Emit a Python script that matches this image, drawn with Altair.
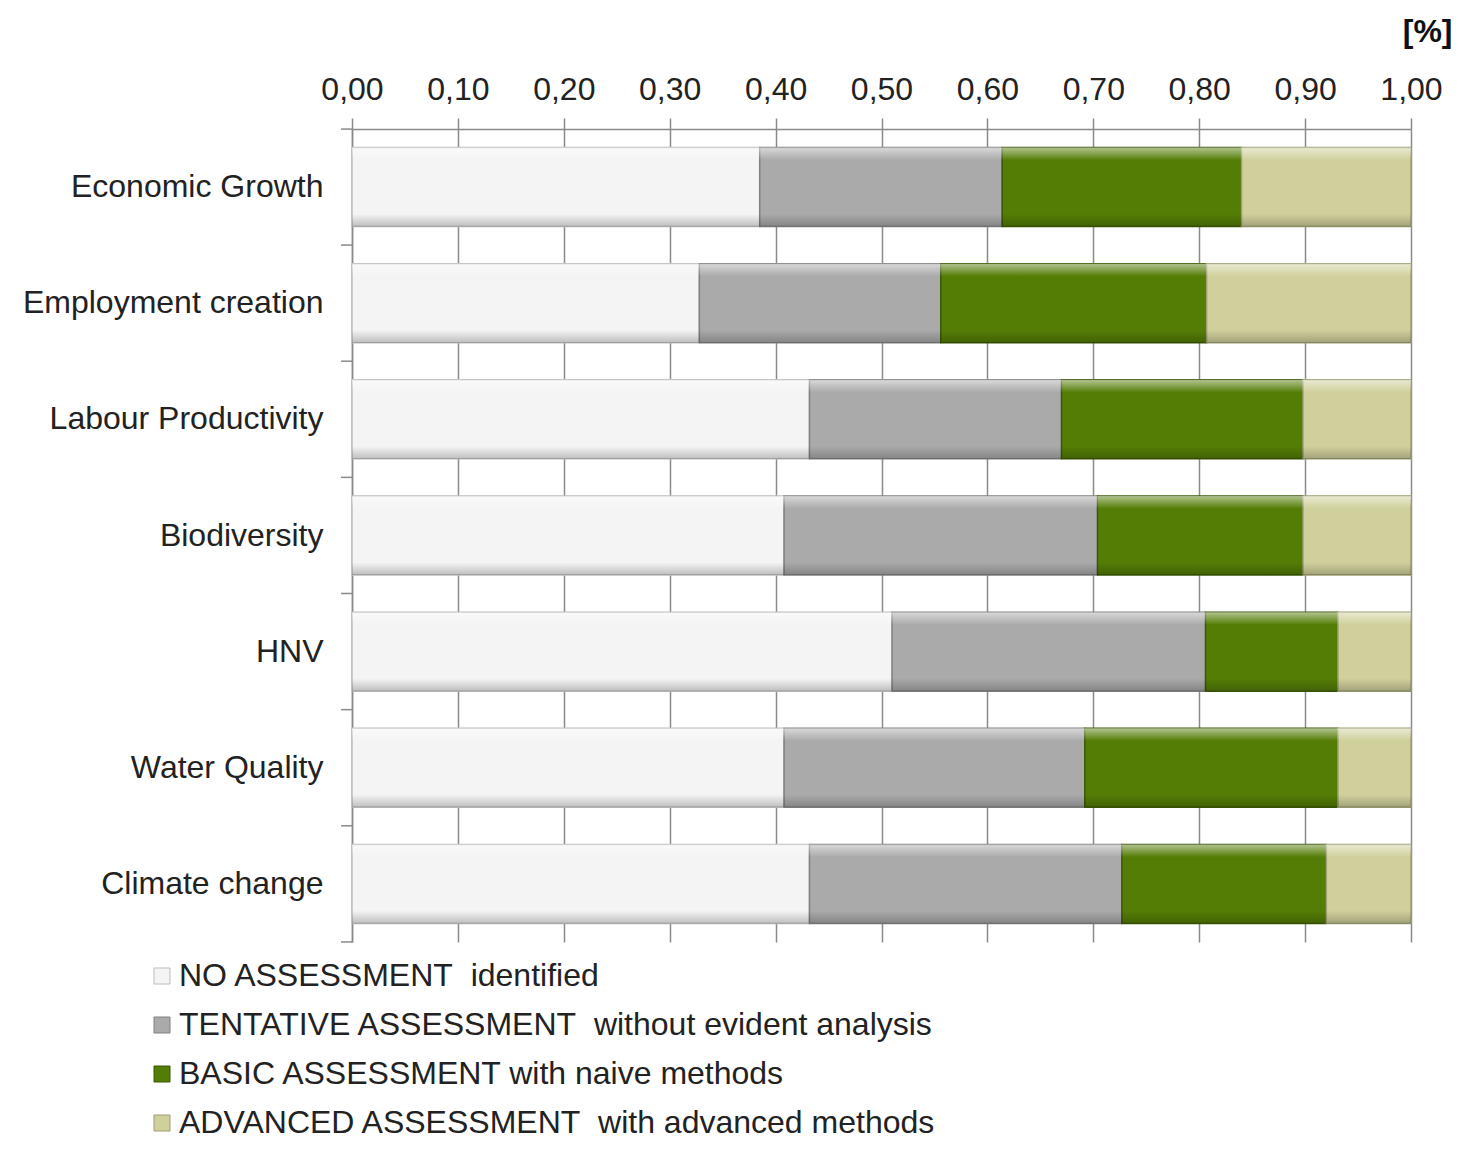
import altair as alt
import pandas as pd

categories = ["Economic Growth", "Employment creation", "Labour Productivity",
              "Biodiversity", "HNV", "Water Quality", "Climate change"]
levels = ["NO ASSESSMENT\u00a0 identified",
          "TENTATIVE ASSESSMENT\u00a0 without evident analysis",
          "BASIC ASSESSMENT with naive methods",
          "ADVANCED ASSESSMENT\u00a0 with advanced methods"]
no_assessment = [0.385, 0.328, 0.432, 0.408, 0.510, 0.408, 0.432]
tentative = [0.229, 0.228, 0.238, 0.296, 0.296, 0.284, 0.295]
basic = [0.226, 0.251, 0.228, 0.194, 0.125, 0.239, 0.193]
advanced = [0.160, 0.193, 0.102, 0.102, 0.069, 0.069, 0.080]
tick_values = [0.0, 0.1, 0.2, 0.3, 0.4, 0.5, 0.6, 0.7, 0.8, 0.9, 1.0]

fill_colors = ["#f4f4f4", "#aaaaaa", "#547d06", "#d0d09c"]
edge_colors = ["#bdbdbd", "#808080", "#3b5904", "#9e9e72"]

rows = []
series = [no_assessment, tentative, basic, advanced]
for li, (lev, vals) in enumerate(zip(levels, series)):
    for cat, v in zip(categories, vals):
        rows.append({"category": cat, "level": lev, "value": v, "idx": li})
df = pd.DataFrame(rows)
cat_df = pd.DataFrame({"category": categories})

FONT = "Liberation Sans"
AXIS_GRAY = "#8a8a8a"

x_enc = alt.X("value:Q", stack="zero",
              scale=alt.Scale(domain=[0, 1], nice=False, zero=True),
              axis=alt.Axis(orient="top", values=tick_values,
                            labelExpr="replace(format(datum.value, '.2f'), '.', ',')",
                            labelFlush=False, labelOverlap=False,
                            tickSize=11, tickColor=AXIS_GRAY, tickWidth=1.5,
                            domainColor=AXIS_GRAY, domainWidth=1.5,
                            grid=True, gridColor=AXIS_GRAY, gridWidth=1.5,
                            labelFont=FONT, labelFontSize=32, labelColor="#222222",
                            labelPadding=12,
                            title="[%]", titleFont=FONT, titleFontSize=32,
                            titleFontWeight="bold", titleColor="#111111",
                            titleAlign="right", titleAnchor="end",
                            titleX=1100, titleY=-88, titleBaseline="alphabetic"))
y_enc = alt.Y("category:N", sort=categories,
              scale=alt.Scale(paddingInner=0.32, paddingOuter=0.16),
              axis=alt.Axis(title=None, tickSize=11, tickOpacity=0,
                            domainColor=AXIS_GRAY, domainWidth=1.5,
                            labelFont=FONT, labelFontSize=32, labelColor="#222222",
                            labelPadding=18, labelLimit=400, grid=False))

base = alt.Chart(df).mark_bar(strokeWidth=1.5).encode(
    x=x_enc,
    y=y_enc,
    color=alt.Color("level:N", sort=levels,
                    scale=alt.Scale(domain=levels, range=fill_colors),
                    legend=alt.Legend(title=None, orient="none",
                                      legendX=-206, legendY=831,
                                      direction="vertical",
                                      symbolType="square", symbolSize=256,
                                      symbolStrokeColor=AXIS_GRAY, symbolStrokeWidth=1,
                                      labelFont=FONT, labelFontSize=32,
                                      labelColor="#222222", labelOffset=1,
                                      rowPadding=17, labelLimit=900)),
    stroke=alt.Stroke("level:N", sort=levels,
                      scale=alt.Scale(domain=levels, range=edge_colors),
                      legend=None),
    order=alt.Order("idx:Q"),
)

bevel = alt.Chart(df).mark_bar(
    color=alt.Gradient(
        gradient="linear", x1=0, y1=0, x2=0, y2=1,
        stops=[alt.GradientStop(color="rgba(255,255,255,0.55)", offset=0),
               alt.GradientStop(color="rgba(255,255,255,0.0)", offset=0.16),
               alt.GradientStop(color="rgba(0,0,0,0.0)", offset=0.84),
               alt.GradientStop(color="rgba(0,0,0,0.22)", offset=1)]),
    strokeWidth=0,
).encode(
    x=alt.X("value:Q", stack="zero"),
    y=alt.Y("category:N", sort=categories),
    detail="level:N",
    order=alt.Order("idx:Q"),
)

# category boundary ticks on the left axis (below each band, plus one above the first)
ticks_below = alt.Chart(cat_df).mark_rule(color=AXIS_GRAY, strokeWidth=1.5, yOffset=58).encode(
    y=alt.Y("category:N", sort=categories),
    x=alt.value(-11), x2=alt.value(0),
)
tick_top = alt.Chart(cat_df).transform_filter(
    alt.datum.category == categories[0]
).mark_rule(color=AXIS_GRAY, strokeWidth=1.5, yOffset=-58).encode(
    y=alt.Y("category:N", sort=categories),
    x=alt.value(-11), x2=alt.value(0),
)

chart = alt.layer(base, bevel, ticks_below, tick_top).properties(
    width=1059, height=813,
    autosize=alt.AutoSizeParams(type="none"),
    padding={"left": 344, "top": 121, "right": 40, "bottom": 200},
).configure_view(stroke=None)

chart.save("out.html", embed_options={"renderer": "svg", "actions": False})
